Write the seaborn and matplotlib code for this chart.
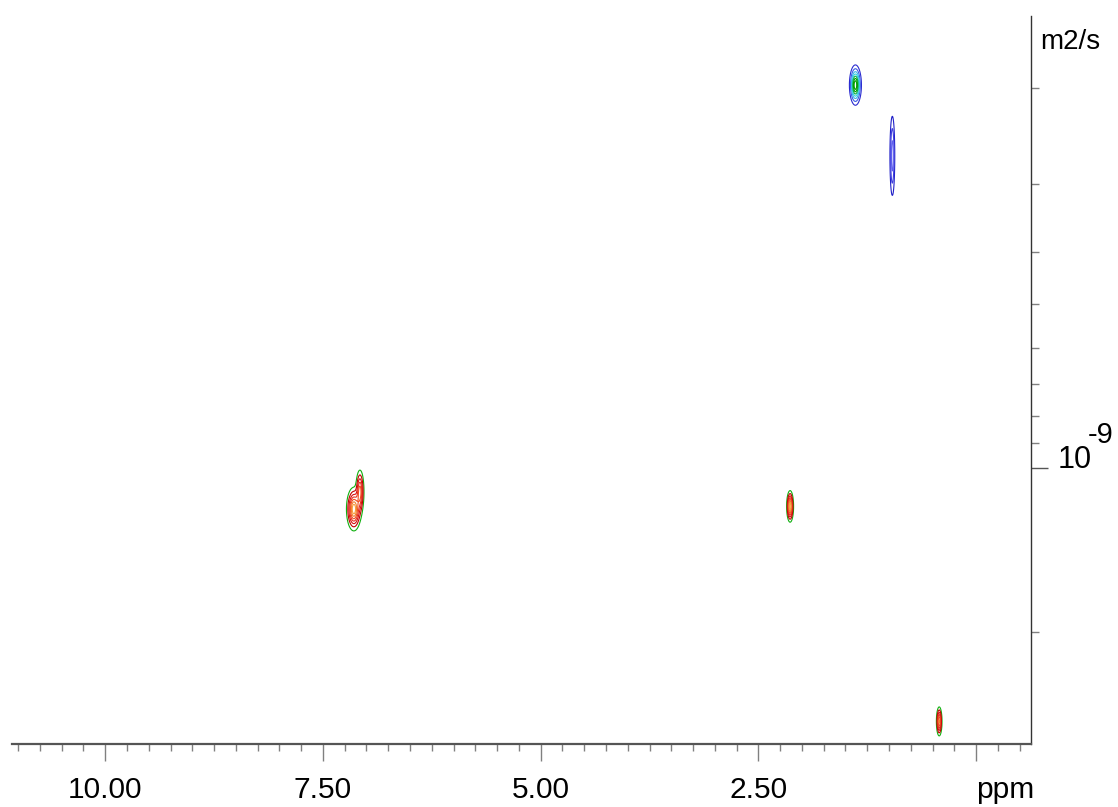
import numpy as np
import matplotlib
matplotlib.use("Agg")
import matplotlib.pyplot as plt
import matplotlib.ticker as mticker
import seaborn as sns

sns.set_style("white")
plt.rcParams["font.family"] = ["Liberation Sans", "DejaVu Sans"]
plt.rcParams["text.color"] = "black"
plt.rcParams["xtick.labelcolor"] = "black"

# Signals in the DOSY map (chemical shift / log10 diffusion coefficient)
peak_ppm = [1.386, 0.962, 7.145, 7.075, 2.136, 0.424]
peak_logd = [-9.704, -9.574, -8.925, -8.958, -8.930, -8.535]
peak_hw_ppm = [0.069, 0.034, 0.085, 0.050, 0.040, 0.034]   # half width of outer contour
peak_hw_logd = [0.037, 0.090, 0.040, 0.042, 0.029, 0.028]
peak_amp = [1.0, 0.45, 1.0, 0.7, 1.0, 0.8]
peak_group = ["blue_cyan", "blue", "red", "red", "red", "red"]

levels = [0.10, 0.22, 0.36, 0.50, 0.64, 0.78, 0.90]
group_colors = {
    "blue_cyan": ["#2a2ad0", "#3b5be6", "#38b8e8", "#30d0e0", "#10b040", "#00a000", "#00a000"],
    "blue": ["#2020c8", "#4040e0", "#6060f0", "#6060f0", "#6060f0", "#6060f0", "#6060f0"],
    "red": ["#10b010", "#c00000", "#d81010", "#e83020", "#f05020", "#f08030", "#f8a040"],
}

x_major = [10.0, 7.5, 5.0, 2.5, 0.0]
x_labels = ["10.00", "7.50", "5.00", "2.50", "ppm"]
y_minor = [2e-10, 3e-10, 4e-10, 5e-10, 6e-10, 7e-10, 8e-10, 9e-10, 2e-9]

fig = plt.figure(figsize=(11.18, 8.07), dpi=100)
ax = fig.add_axes([12 / 1118, 63 / 807, 1019 / 1118, 728 / 807])

ppm = np.arange(-0.7, 11.2, 0.004)
logd = np.arange(-9.86, -8.48, 0.0015)
P, L = np.meshgrid(ppm, logd)
r_out = np.sqrt(-2 * np.log(levels[0]))

for g, cols in group_colors.items():
    Z = np.zeros_like(P)
    for i in range(len(peak_ppm)):
        if peak_group[i] != g:
            continue
        sx = peak_hw_ppm[i] / r_out
        sy = peak_hw_logd[i] / r_out
        Z += peak_amp[i] * np.exp(-0.5 * (((P - peak_ppm[i]) / sx) ** 2 + ((L - peak_logd[i]) / sy) ** 2))
    ax.contour(P, 10 ** L, Z, levels=levels, colors=cols, linewidths=0.8)

ax.set_yscale("log")
ax.set_xlim(11.07, -0.63)
ax.set_ylim(3.21e-9, 1.476e-10)

# spines
for s in ["top", "left"]:
    ax.spines[s].set_visible(False)
ax.spines["bottom"].set_color("#555555")
ax.spines["bottom"].set_linewidth(1.6)
ax.spines["right"].set_color("#333333")
ax.spines["right"].set_linewidth(1.0)

# x axis
ax.xaxis.set_major_locator(mticker.FixedLocator(x_major))
ax.xaxis.set_minor_locator(mticker.MultipleLocator(0.25))
ax.set_xticklabels(x_labels)
ax.tick_params(axis="x", which="both", bottom=True, top=False)
ax.tick_params(axis="x", which="major", direction="out", length=12, width=1.0,
               color="#808080", labelsize=21.5, labelcolor="black", pad=11)
ax.tick_params(axis="x", which="minor", direction="out", length=5, width=1.0, color="#808080")
ax.get_xticklabels()[-1].set_horizontalalignment("left")

# y axis on the right
ax.yaxis.tick_right()
ax.tick_params(axis="y", which="both", right=True, left=False)
ax.yaxis.set_major_locator(mticker.FixedLocator([1e-9]))
ax.yaxis.set_minor_locator(mticker.FixedLocator(y_minor))
ax.yaxis.set_major_formatter(mticker.NullFormatter())
ax.yaxis.set_minor_formatter(mticker.NullFormatter())
ax.tick_params(axis="y", which="major", direction="out", length=12, width=1.0, color="#555555")
ax.tick_params(axis="y", which="minor", direction="out", length=6, width=1.0, color="#808080")

tr = matplotlib.transforms.blended_transform_factory(ax.transAxes, ax.transData)
ax.text(1.0265, 1e-9, "10", transform=tr, fontsize=22, ha="left", va="baseline", color="black")
ax.text(1.0559, 10 ** -9.046, "-9", transform=tr, fontsize=21, ha="left", va="baseline", color="black")
fig.text(1040 / 1118, 1 - 49 / 807, "m2/s", fontsize=20, ha="left", va="baseline", color="black")

fig.savefig("out.png", dpi=100)
